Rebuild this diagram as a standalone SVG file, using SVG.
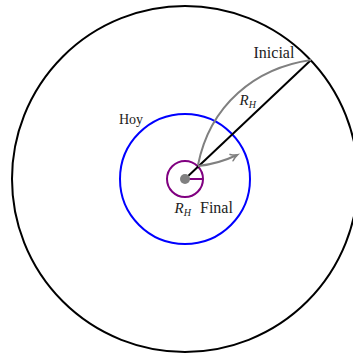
<svg xmlns="http://www.w3.org/2000/svg" width="353" height="356" viewBox="0 0 353 356">
<style>
.lbl{font-family:"Liberation Serif","DejaVu Serif",serif;font-size:15px;fill:#222}
.it{font-style:italic}
.sub{font-size:10px;font-style:italic}
</style>
<defs>
<marker id="arr" markerWidth="10" markerHeight="10" refX="7" refY="5" orient="auto" markerUnits="userSpaceOnUse">
<path d="M1,1.5 Q4,4 7.5,5 Q4,6 1,8.5" fill="none" stroke="#808080" stroke-width="1.6" stroke-linecap="round"/>
</marker>
</defs>
<rect width="353" height="356" fill="#fff"/>
<g id="initial-circle"><circle cx="185" cy="179" r="173" fill="none" stroke="#000" stroke-width="2"/></g>
<g id="today-circle"><circle cx="185" cy="179" r="65" fill="none" stroke="#0000ff" stroke-width="2"/></g>
<g id="final-circle"><circle cx="185" cy="179" r="18" fill="none" stroke="#800080" stroke-width="2"/></g>
<g id="connectors">
<line x1="185" y1="179" x2="311" y2="60" stroke="#000" stroke-width="2"/>
<line x1="185" y1="179" x2="203" y2="179" stroke="#800080" stroke-width="2"/>
<path d="M311,60 C255,68 210,105 198,165" fill="none" stroke="#808080" stroke-width="2"/>
<path d="M198,166 Q218,164 237,155" fill="none" stroke="#808080" stroke-width="2" marker-end="url(#arr)"/>
</g>
<g id="center"><circle cx="185" cy="179" r="5" fill="#808080"/></g>
<g id="labels">
<text class="lbl" x="253.5" y="57.5" style="font-size:16px">Inicial</text>
<text class="lbl" x="119" y="123.5" style="font-size:14px">Hoy</text>
<text class="lbl" x="239.5" y="105"><tspan class="it">R</tspan><tspan class="sub" dy="3">H</tspan></text>
<text class="lbl" x="174.5" y="212.5"><tspan class="it">R</tspan><tspan class="sub" dy="3">H</tspan></text>
<text class="lbl" x="200" y="212.5" style="font-size:16px">Final</text>
</g>
</svg>
